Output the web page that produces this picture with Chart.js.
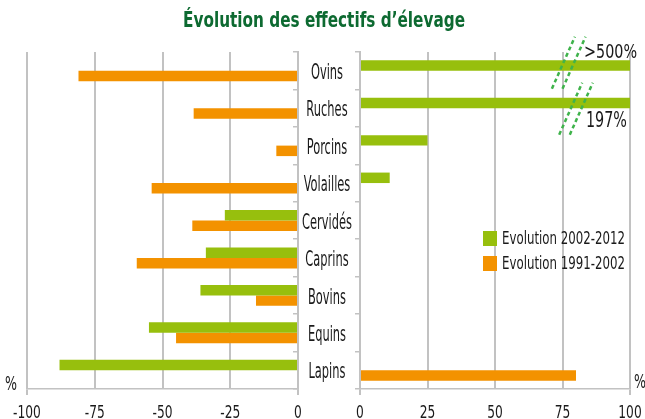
<!DOCTYPE html>
<html><head><meta charset="utf-8">
<script src="https://cdn.jsdelivr.net/npm/chart.js@4.4.1/dist/chart.umd.min.js"></script>
<style>
html,body{margin:0;padding:0;background:#fff;}
#wrap{position:relative;width:645px;height:419px;overflow:hidden;background:#fff;
  font-family:'DejaVu Sans',sans-serif;}
canvas{position:absolute;top:0;}
#cl{left:-20px;}
#cr{left:290px;}
.t{position:absolute;white-space:nowrap;color:#1a1a1a;transform-origin:0 50%;}
#title{font-weight:bold;color:#0d6a31;}
.sw{position:absolute;width:14px;height:15px;}
</style></head><body>
<div id="wrap">
<canvas id="cl" width="350" height="419"></canvas>
<canvas id="cr" width="390" height="419"></canvas>
<div id="title" class="t" data-x="183" data-w="282" data-cy="21" data-fs="21">Évolution des effectifs d’élevage</div>
<div class="t" data-x="5" data-w="12" data-cy="383" data-fs="19">%</div>
<div class="t" data-x="634" data-w="12" data-cy="381" data-fs="19">%</div>
<div class="t" data-x="584" data-w="53" data-cy="51" data-fs="20">&gt;500%</div>
<div class="t" data-x="586" data-w="41" data-cy="120" data-fs="22">197%</div>
<div id="legend"></div>
</div>
<script>
// ---- data ----
const categories = ['Ovins','Ruches','Porcins','Volailles','Cervidés','Caprins','Bovins','Equins','Lapins'];
const seriesNames = ['Evolution 2002-2012','Evolution 1991-2002'];
const evo2002_2012 = [500, 197, 25, 11, -27, -34, -36, -55, -88];
const evo1991_2002 = [-81, -38.5, -8, -54, -39, -59.5, -15.5, -45, 80];
const leftTicks = [-100, -75, -50, -25, 0];
const rightTicks = [0, 25, 50, 75, 100];
const breakCats = ['Ovins','Ruches'];
const breakValues = [77.3, 80];

// ---- styles ----
const GREEN = '#97bf0d', ORANGE = '#f39200', GRID = '#c2c2c2';
const FONT = "'DejaVu Sans',sans-serif";

// legend (HTML)
const leg = document.getElementById('legend');
[[GREEN, 231], [ORANGE, 256]].forEach((c, i) => {
  const s = document.createElement('div');
  s.className = 'sw'; s.style.left = '483px'; s.style.top = c[1] + 'px'; s.style.background = c[0];
  leg.appendChild(s);
  const t = document.createElement('div');
  t.className = 't'; t.dataset.x = 502; t.dataset.w = 123; t.dataset.cy = c[1] + 7.5; t.dataset.fs = 17;
  t.textContent = seriesNames[i];
  leg.appendChild(t);
});

// place & horizontally condense HTML texts to match the reference's narrow lettering
document.querySelectorAll('.t').forEach(el => {
  const fs = +el.dataset.fs;
  el.style.fontSize = fs + 'px';
  el.style.lineHeight = Math.round(fs * 1.2) + 'px';
  el.style.left = el.dataset.x + 'px';
  el.style.top = (+el.dataset.cy - fs * 0.6) + 'px';
  const natural = el.getBoundingClientRect().width;
  el.style.transform = 'scaleX(' + (+el.dataset.w / natural) + ')';
});

// condense canvas tick labels around their anchor point
const squeezeLabels = {
  id: 'squeezeLabels',
  beforeDraw(chart) {
    Object.values(chart.scales).forEach(s => {
      if (s._sq) return;
      const orig = s.drawLabels;
      const k = s.axis === 'x' ? 0.68 : 0.52;
      const dy = s.axis === 'x' ? 0 : 2.5;
      s.drawLabels = function (area) {
        const ctx = this.ctx;
        const f = CanvasRenderingContext2D.prototype.fillText;
        ctx.fillText = function (t, x, y, m) {
          this.save(); this.translate(x, y + dy); this.scale(k, 1);
          if (m === undefined) f.call(this, t, 0, 0); else f.call(this, t, 0, 0, m / k);
          this.restore();
        };
        try { orig.call(this, area); } finally { delete ctx.fillText; }
      };
      s._sq = true;
    });
  }
};

function datasets() {
  return [
    {label: seriesNames[0], data: evo2002_2012, backgroundColor: GREEN, borderWidth: 0, clip: 0,
     categoryPercentage: 0.56, barPercentage: 1.0},
    {label: seriesNames[1], data: evo1991_2002, backgroundColor: ORANGE, borderWidth: 0, clip: 0,
     categoryPercentage: 0.56, barPercentage: 1.0}
  ];
}

function xScale(ticksArr) {
  const last = ticksArr.length - 1;
  return {
    type: 'linear', position: 'bottom',
    min: ticksArr[0], max: ticksArr[last],
    afterBuildTicks: s => { s.ticks = ticksArr.map(v => ({value: v})); },
    afterFit: s => { s.height = 30; },
    grid: {color: GRID, lineWidth: 2, drawTicks: true, tickLength: 6,
      tickColor: c => (c.index === 0 || c.index === last) ? GRID : 'rgba(0,0,0,0)'},
    border: {display: true, color: GRID, width: 1.5},
    ticks: {color: '#1a1a1a', font: {family: FONT, size: 18}, padding: 8,
      maxRotation: 0, autoSkip: false}
  };
}

Chart.defaults.animation = false;

// left panel
new Chart(document.getElementById('cl'), {
  type: 'bar',
  data: {labels: categories, datasets: datasets()},
  plugins: [squeezeLabels],
  options: {
    indexAxis: 'y', responsive: false, animation: false,
    layout: {padding: {left: 47, right: 32, top: 52, bottom: 0}},
    plugins: {legend: {display: false}, tooltip: {enabled: false}, title: {display: false}},
    scales: {
      x: xScale(leftTicks),
      y: {type: 'category', position: 'right', offset: true,
        afterFit: s => { s.width = 0; },
        grid: {display: true, drawOnChartArea: false, offset: true, drawTicks: true, tickLength: -5,
          color: GRID, lineWidth: 1.5},
        border: {display: true, color: GRID, width: 2},
        ticks: {display: false}}
    }
  }
});

// break marks plugin for right panel
const breakMarks = {
  id: 'breakMarks',
  afterDatasetsDraw(chart) {
    const xs = chart.scales.x, ys = chart.scales.y, ctx = chart.ctx;
    const dys = [-8, 0.6];
    ctx.save();
    ctx.strokeStyle = '#3fb34b';
    ctx.lineWidth = 2.5;
    ctx.setLineDash([4, 3]);
    breakCats.forEach((cat, i) => {
      const cx = xs.getPixelForValue(breakValues[i]);
      const cy = ys.getPixelForValue(categories.indexOf(cat)) + dys[i];
      [-5.3, 5.3].forEach(off => {
        ctx.beginPath();
        ctx.moveTo(cx + off - 11.5, cy + 26);
        ctx.lineTo(cx + off + 11.5, cy - 26);
        ctx.stroke();
      });
    });
    ctx.restore();
  }
};

// right panel
new Chart(document.getElementById('cr'), {
  type: 'bar',
  data: {labels: categories, datasets: datasets()},
  plugins: [breakMarks, squeezeLabels],
  options: {
    indexAxis: 'y', responsive: false, animation: false,
    layout: {padding: {left: 7, right: 50, top: 52, bottom: 0}},
    plugins: {legend: {display: false}, tooltip: {enabled: false}, title: {display: false}},
    scales: {
      x: xScale(rightTicks),
      y: {type: 'category', position: 'left', offset: true,
        afterFit: s => { s.width = 63; },
        grid: {display: true, drawOnChartArea: false, offset: true, drawTicks: true, tickLength: 5,
          color: GRID, lineWidth: 1.5},
        border: {display: true, color: GRID, width: 2},
        ticks: {color: '#1a1a1a', font: {family: FONT, size: 22}, padding: -20,
          crossAlign: 'center', autoSkip: false}}
    }
  }
});
</script>
</body></html>
